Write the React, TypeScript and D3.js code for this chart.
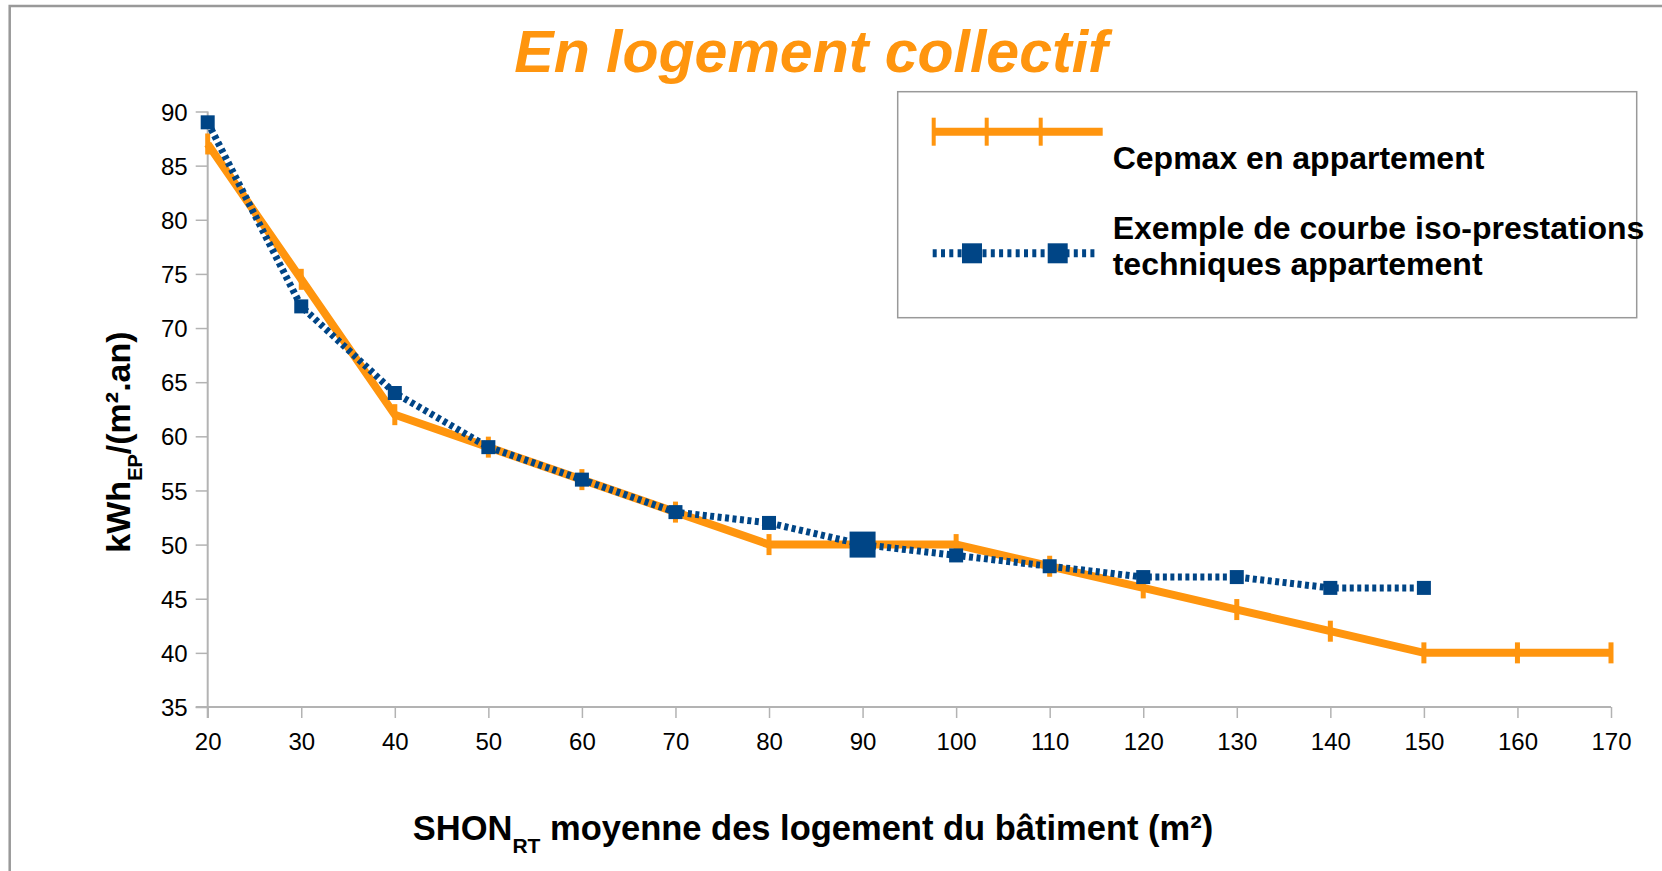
import React, { useEffect, useRef } from 'react'
import * as d3 from 'd3'

const surfaces = [20, 30, 40, 50, 60, 70, 80, 90, 100, 110, 120, 130, 140, 150, 160, 170]
const cepmax = [87, 74.5, 62, 59, 56, 53, 50, 50, 50, 48, 46, 44, 42, 40, 40, 40]
const isoSurfaces = [20, 30, 40, 50, 60, 70, 80, 90, 100, 110, 120, 130, 140, 150]
const isoValues = [89, 72, 64, 59, 56, 53, 52, 50, 49, 48, 47, 47, 46, 46]
const bigMarkerAt = 90

const xTicks = [20, 30, 40, 50, 60, 70, 80, 90, 100, 110, 120, 130, 140, 150, 160, 170]
const yTicks = [35, 40, 45, 50, 55, 60, 65, 70, 75, 80, 85, 90]

const title = 'En logement collectif'
const legendLabels = ['Cepmax en appartement', 'Exemple de courbe iso-prestations', 'techniques appartement']

const ORANGE = '#ff950e'
const BLUE = '#004586'
const AXIS = '#b3b3b3'
const FONT = '"Liberation Sans", Arial, sans-serif'

const width = 1662
const height = 871

function Chart() {
    const ref = useRef<HTMLDivElement>(null)

    useEffect(() => {
        const node = ref.current
        if (!node) return
        node.innerHTML = ''

        const x = d3.scaleLinear().domain([20, 170]).range([207.7, 1611])
        const y = d3.scaleLinear().domain([35, 90]).range([707, 111.5])

        const svg = d3.select(node).append('svg')
            .attr('width', width)
            .attr('height', height)
            .attr('viewBox', [0, 0, width, height].join(' '))
            .style('position', 'absolute')
            .style('left', 0)
            .style('top', 0)
            .style('font-family', FONT)

        svg.append('rect').attr('width', width).attr('height', height).attr('fill', 'white')

        // outer frame (right / bottom edges fall outside the picture)
        svg.append('rect')
            .attr('x', 9.7).attr('y', 6)
            .attr('width', 1720).attr('height', 920)
            .attr('fill', 'none').attr('stroke', '#999').attr('stroke-width', 2.5)

        svg.append('text')
            .attr('x', 811).attr('y', 72)
            .attr('text-anchor', 'middle')
            .attr('fill', ORANGE)
            .style('font-size', '59px')
            .style('font-weight', 'bold')
            .style('font-style', 'italic')
            .text(title)

        // axes
        const yAxis = svg.append('g')
            .attr('transform', `translate(${x(20)},0)`)
            .call(d3.axisLeft(y).tickValues(yTicks).tickSize(12).tickPadding(8).tickFormat(d3.format('d')))
        const xAxis = svg.append('g')
            .attr('transform', `translate(0,${y(35)})`)
            .call(d3.axisBottom(x).tickValues(xTicks).tickSize(11).tickPadding(15).tickFormat(d3.format('d')))

        for (const g of [yAxis, xAxis]) {
            g.select('.domain').attr('stroke', AXIS).attr('stroke-width', 2)
            g.selectAll('.tick line').attr('stroke', AXIS).attr('stroke-width', 1.5)
            g.selectAll('.tick text')
                .attr('fill', '#000')
                .style('font-size', '24px')
                .style('font-family', FONT)
        }
        yAxis.selectAll('.tick text').attr('dy', '0.36em')
        xAxis.selectAll('.tick text').attr('dy', '0.71em')
        // axis domain without outer tick stubs
        yAxis.select('.domain').attr('d', `M0,${y(35) + 11}V${y(90)}`)
        xAxis.select('.domain').attr('d', `M${x(20) - 12},0H${x(170)}`)

        // axis titles
        const yTitle = svg.append('text')
            .attr('transform', 'translate(130,442) rotate(-90)')
            .attr('text-anchor', 'middle')
            .style('font-size', '34px')
            .style('font-weight', 'bold')
        yTitle.append('tspan').text('kWh')
        yTitle.append('tspan').attr('dy', 12).style('font-size', '20px').text('EP')
        yTitle.append('tspan').attr('dy', -12).text('/(m².an)')

        const xTitle = svg.append('text')
            .attr('x', 813).attr('y', 840)
            .attr('text-anchor', 'middle')
            .style('font-size', '34.5px')
            .style('font-weight', 'bold')
        xTitle.append('tspan').text('SHON')
        xTitle.append('tspan').attr('dy', 13).style('font-size', '21px').text('RT')
        xTitle.append('tspan').attr('dy', -13).text(' moyenne des logement du bâtiment (m²)')

        // Cepmax series
        const cepData = surfaces.map((s, i) => [s, cepmax[i]] as [number, number])
        svg.append('path')
            .datum(cepData)
            .attr('fill', 'none')
            .attr('stroke', ORANGE)
            .attr('stroke-width', 8)
            .attr('stroke-linejoin', 'miter')
            .attr('d', d3.line().x(d => x(d[0])).y(d => y(d[1])))
        svg.append('g')
            .selectAll('rect')
            .data(cepData)
            .join('rect')
            .attr('x', d => x(d[0]) - 2.5)
            .attr('y', d => y(d[1]) - 10.5)
            .attr('width', 5)
            .attr('height', 21)
            .attr('fill', ORANGE)

        // iso-prestations series
        const isoData = isoSurfaces.map((s, i) => [s, isoValues[i]] as [number, number])
        svg.append('path')
            .datum(isoData)
            .attr('fill', 'none')
            .attr('stroke', BLUE)
            .attr('stroke-width', 7)
            .attr('stroke-dasharray', '4,3.5')
            .attr('d', d3.line().x(d => x(d[0])).y(d => y(d[1])))
        svg.append('g')
            .selectAll('rect')
            .data(isoData)
            .join('rect')
            .each(function (d) {
                const s = d[0] === bigMarkerAt ? 26 : 14
                d3.select(this)
                    .attr('x', x(d[0]) - s / 2)
                    .attr('y', y(d[1]) - s / 2)
                    .attr('width', s)
                    .attr('height', s)
            })
            .attr('fill', BLUE)

        // legend
        const legend = svg.append('g')
        legend.append('rect')
            .attr('x', 897.7).attr('y', 91.7)
            .attr('width', 739).attr('height', 226)
            .attr('fill', 'white').attr('stroke', '#999').attr('stroke-width', 1.5)

        legend.append('line')
            .attr('x1', 932).attr('x2', 1102.7).attr('y1', 131.7).attr('y2', 131.7)
            .attr('stroke', ORANGE).attr('stroke-width', 8)
        legend.selectAll('rect.tick')
            .data([933.7, 986.7, 1040.7])
            .join('rect')
            .attr('class', 'tick')
            .attr('x', d => d - 2).attr('y', 131.7 - 14)
            .attr('width', 4).attr('height', 28)
            .attr('fill', ORANGE)

        legend.append('line')
            .attr('x1', 932.7).attr('x2', 1098).attr('y1', 253.3).attr('y2', 253.3)
            .attr('stroke', BLUE).attr('stroke-width', 8)
            .attr('stroke-dasharray', '4,4.3')
        legend.selectAll('rect.sq')
            .data([972, 1057.7])
            .join('rect')
            .attr('class', 'sq')
            .attr('x', d => d - 10).attr('y', 253.3 - 10)
            .attr('width', 20).attr('height', 20)
            .attr('fill', BLUE)

        legend.selectAll('text')
            .data([[legendLabels[0], 169.3], [legendLabels[1], 239.3], [legendLabels[2], 275]])
            .join('text')
            .attr('x', 1112.7)
            .attr('y', d => d[1] as number)
            .style('font-size', '32px')
            .style('font-weight', 'bold')
            .text(d => d[0] as string)
    }, [])

    return <div ref={ref} style={{ width, height }} />
}

export default function App() {
    return <Chart />
}
